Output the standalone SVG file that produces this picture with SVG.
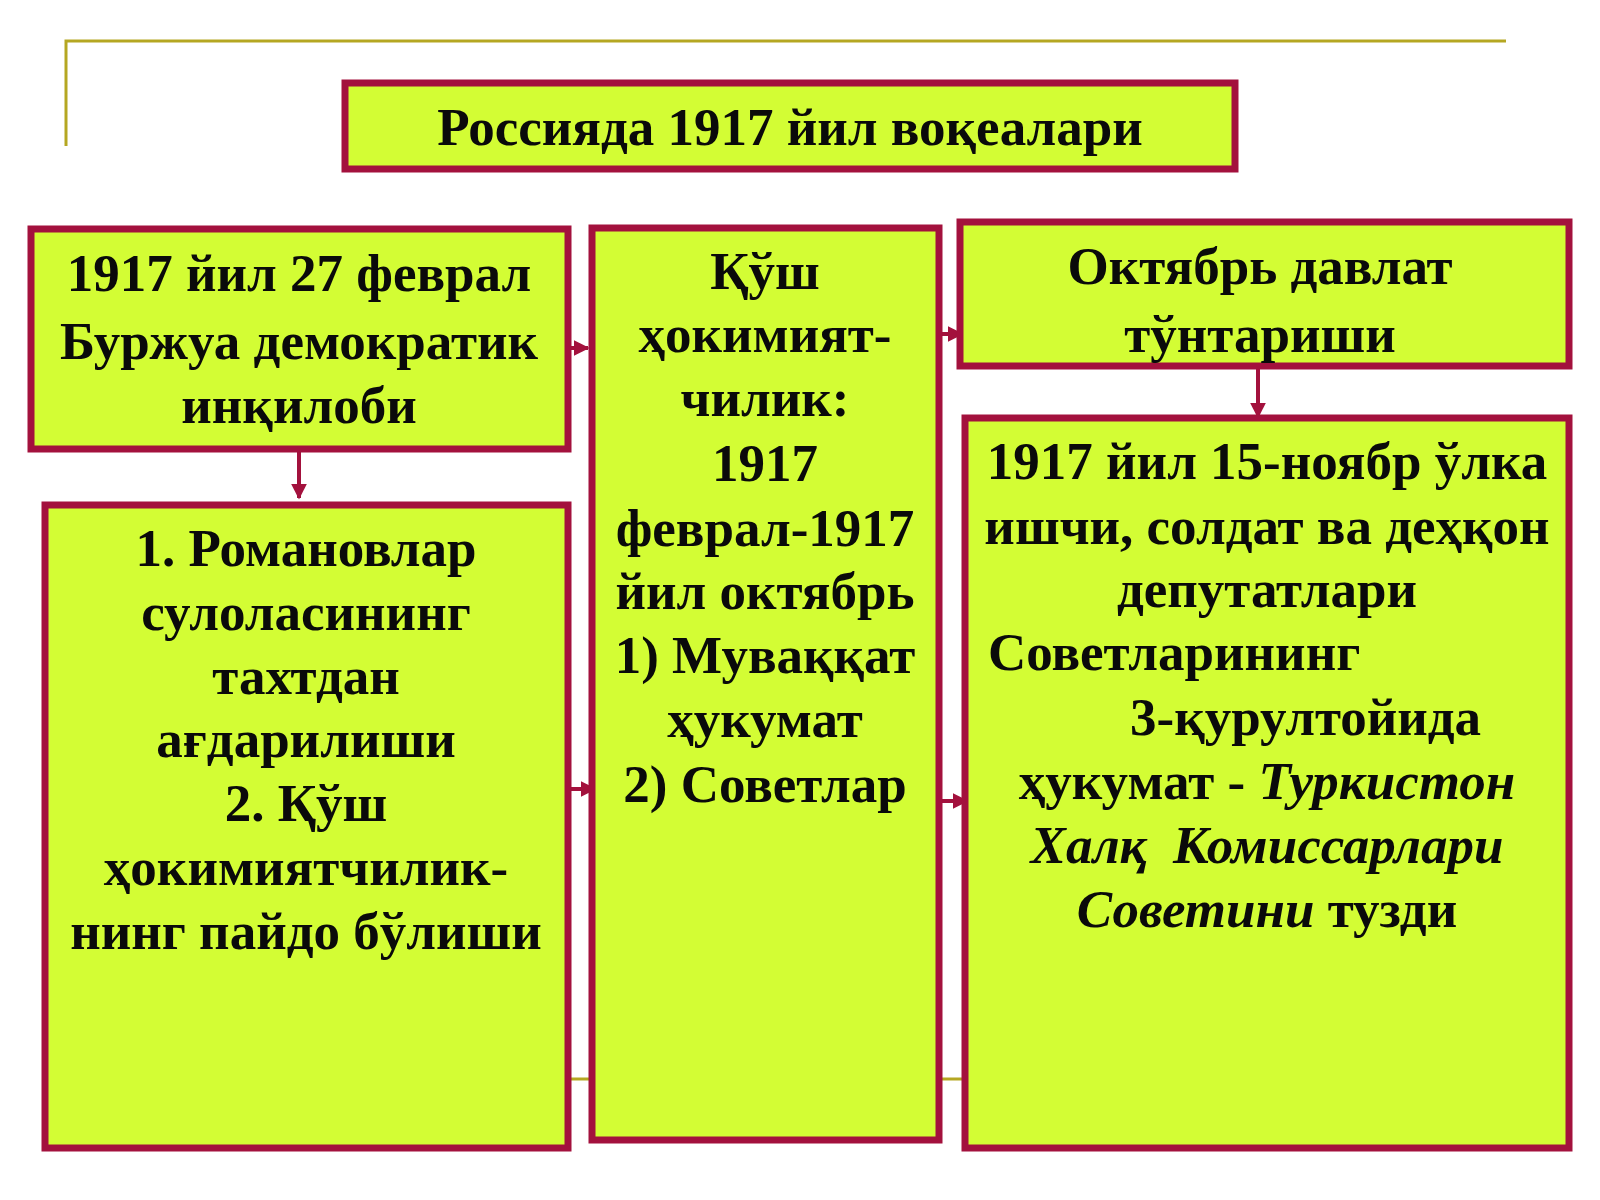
<svg xmlns="http://www.w3.org/2000/svg" width="1600" height="1200" viewBox="0 0 1600 1200">
<style>
.box{fill:#d3fd34;stroke:#a3113d;stroke-width:7}
.t{font-family:"Liberation Serif","Times New Roman",serif;font-weight:bold;font-size:53px;fill:#0a0a0a;text-anchor:middle}
.l{text-anchor:start}
.i{font-style:italic}
.con{stroke:#a3113d;stroke-width:4;fill:none}
.deco{stroke:#b5a722;stroke-width:3;fill:none}
</style>
<defs>
<marker id="ah" viewBox="0 0 10 10" refX="9" refY="5" markerWidth="4" markerHeight="5" markerUnits="strokeWidth" orient="auto">
<path d="M0,0 L10,5 L0,10 z" fill="#a3113d"/>
</marker>
</defs>
<rect width="1600" height="1200" fill="#ffffff"/>
<g id="decor">
<polyline class="deco" points="66,146 66,41 1506,41"/>
<line class="deco" x1="66" y1="1079" x2="1506" y2="1079"/>
</g>
<g id="title">
<rect class="box" x="345" y="83" width="890" height="86"/>
<text class="t" x="790" y="145">Россияда 1917 йил воқеалари</text>
</g>
<g id="connectors">
<line class="con" x1="561" y1="348" x2="588" y2="348" marker-end="url(#ah)"/>
<line class="con" x1="936" y1="334" x2="962" y2="334" marker-end="url(#ah)"/>
<line class="con" x1="299" y1="444" x2="299" y2="498" marker-end="url(#ah)"/>
<line class="con" x1="1258" y1="368" x2="1258" y2="417" marker-end="url(#ah)"/>
<line class="con" x1="568" y1="789" x2="595" y2="789" marker-end="url(#ah)"/>
<line class="con" x1="939" y1="801" x2="967" y2="801" marker-end="url(#ah)"/>
</g>
<g id="feb">
<rect class="box" x="31" y="229" width="537" height="220"/>
<text class="t" x="299" y="291">1917 йил 27 феврал</text>
<text class="t" x="299" y="359">Буржуа демократик</text>
<text class="t" x="299" y="423">инқилоби</text>
</g>
<g id="results">
<rect class="box" x="45" y="505" width="523" height="643"/>
<text class="t" x="306" y="566">1. Романовлар</text>
<text class="t" x="306" y="630">сулоласининг</text>
<text class="t" x="306" y="694">тахтдан</text>
<text class="t" x="306" y="757">ағдарилиши</text>
<text class="t" x="306" y="821">2. Қўш</text>
<text class="t" x="306" y="885">ҳокимиятчилик-</text>
<text class="t" x="306" y="949">нинг пайдо бўлиши</text>
</g>
<g id="dual">
<rect class="box" x="592" y="228" width="347" height="912"/>
<text class="t" x="765" y="289">Қўш</text>
<text class="t" x="765" y="352">ҳокимият-</text>
<text class="t" x="765" y="416">чилик:</text>
<text class="t" x="765" y="481">1917</text>
<text class="t" x="765" y="546">феврал-1917</text>
<text class="t" x="765" y="609">йил октябрь</text>
<text class="t" x="765" y="673">1) Муваққат</text>
<text class="t" x="765" y="737">ҳукумат</text>
<text class="t" x="765" y="802">2) Советлар</text>
</g>
<g id="october">
<rect class="box" x="960" y="222" width="609" height="144"/>
<text class="t" x="1260" y="284">Октябрь давлат</text>
<text class="t" x="1260" y="352">тўнтариши</text>
</g>
<g id="turkistan">
<rect class="box" x="965" y="418" width="604" height="730"/>
<text class="t" x="1267" y="479">1917 йил 15-ноябр ўлка</text>
<text class="t" x="1267" y="544">ишчи, солдат ва деҳқон</text>
<text class="t" x="1267" y="607">депутатлари</text>
<text class="t l" x="988" y="670">Советларининг</text>
<text class="t l" x="1130" y="735">3-қурултойида</text>
<text class="t" x="1267" y="799">ҳукумат - <tspan class="i">Туркистон</tspan></text>
<text class="t i" x="1267" y="863" xml:space="preserve">Халқ  Комиссарлари</text>
<text class="t" x="1267" y="927"><tspan class="i">Советини</tspan> тузди</text>
</g>
</svg>
